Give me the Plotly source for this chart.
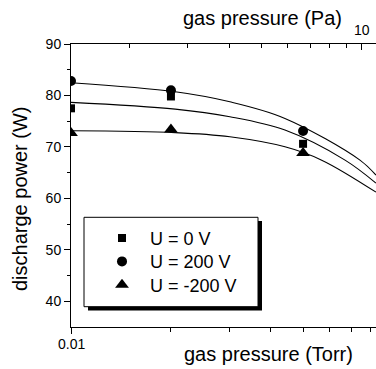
import math
import plotly.graph_objects as go

# ---- data ----
pressure_torr = [0.01, 0.02, 0.05]
power_0V = [77.5, 79.8, 70.6]
power_200V = [82.8, 81.0, 73.1]
power_m200V = [72.7, 73.4, 68.8]

fit_x_0V = [0.01, 0.0206, 0.0301, 0.0441, 0.0669, 0.0829]
fit_0V = [78.66, 77.35, 75.86, 73.27, 67.43, 62.96]
fit_x_200V = [0.01, 0.0206, 0.0301, 0.0441, 0.0742, 0.0829]
fit_200V = [82.47, 80.72, 78.77, 75.54, 67.43, 64.51]
fit_x_m200V = [0.01, 0.0206, 0.0301, 0.0441, 0.0569, 0.0829]
fit_m200V = [73.13, 72.78, 71.97, 70.02, 67.43, 61.21]

labels = ["U = 0 V", "U = 200 V", "U = -200 V"]
torr_ticks = [0.01]
torr_ticktext = ["0.01"]
torr_minor = [0.02, 0.03, 0.04, 0.05, 0.06, 0.07, 0.08]
pa_ticks = [10]
pa_ticktext = ["10"]
pa_minor = [2, 3, 4, 5, 6, 7, 8, 9]
y_ticks = [40, 50, 60, 70, 80, 90]
y_minor = [45, 55, 65, 75, 85]

TORR_TO_PA = 133.322
PA_SHIFT = math.log10(TORR_TO_PA)

W, H = 376, 369
L, R, T, B = 71, 0, 44, 42
PW, PH = W - L - R, H - T - B


def px(x):
    return (x - L) / PW


def py(y):
    return (H - B - y) / PH


FONT = "Liberation Sans, Arial, sans-serif"
x_lo, x_hi = -2.0, -2.0 + (376 - 71) / 332.0

fig = go.Figure()

line_style = dict(color="black", width=1.1, shape="spline")
fig.add_trace(go.Scatter(x=fit_x_0V, y=fit_0V, mode="lines", line=line_style, showlegend=False, hoverinfo="skip"))
fig.add_trace(go.Scatter(x=fit_x_200V, y=fit_200V, mode="lines", line=line_style, showlegend=False, hoverinfo="skip"))
fig.add_trace(go.Scatter(x=fit_x_m200V, y=fit_m200V, mode="lines", line=line_style, showlegend=False, hoverinfo="skip"))

fig.add_trace(go.Scatter(x=pressure_torr, y=power_0V, mode="markers", name=labels[0], legend="legend",
                         marker=dict(symbol="square", size=8, color="black")))
fig.add_trace(go.Scatter(x=pressure_torr, y=power_200V, mode="markers", name=labels[1], legend="legend2",
                         marker=dict(symbol="circle", size=10, color="black")))
fig.add_trace(go.Scatter(x=pressure_torr, y=power_m200V, mode="markers", name=labels[2], legend="legend3",
                         marker=dict(symbol="triangle-up", size=12, color="black")))

# dummy trace for top axis
fig.add_trace(go.Scatter(x=[10 ** (x_lo + PA_SHIFT)], y=[None], xaxis="x2",
                         showlegend=False, hoverinfo="skip"))

tick_common = dict(tickwidth=1, tickcolor="black")


def leg(ycenter):
    return dict(x=px(94), y=py(ycenter), xanchor="left", yanchor="middle",
                bgcolor="rgba(0,0,0,0)", borderwidth=0, itemwidth=46,
                font=dict(size=18, family=FONT, color="black"))


annotations = [
    dict(text="discharge power (W)", xref="paper", yref="paper", x=px(20), y=py(199),
         showarrow=False, textangle=-90, font=dict(size=20, family=FONT),
         xanchor="center", yanchor="middle"),
    dict(text="gas pressure (Torr)", xref="paper", yref="paper", x=px(268), y=py(354),
         showarrow=False, font=dict(size=20, family=FONT), xanchor="center", yanchor="middle"),
    dict(text="gas pressure (Pa)", xref="paper", yref="paper", x=px(262), y=py(18),
         showarrow=False, font=dict(size=20, family=FONT), xanchor="center", yanchor="middle"),
]
for v, t in zip(torr_ticks, torr_ticktext):
    annotations.append(dict(text=t, xref="x", yref="paper", x=math.log10(v), y=py(344),
                            showarrow=False, font=dict(size=14, family=FONT),
                            xanchor="center", yanchor="middle"))
for v, t in zip(pa_ticks, pa_ticktext):
    annotations.append(dict(text=t, xref="x2", yref="paper", x=math.log10(v), y=py(30),
                            showarrow=False, font=dict(size=14, family=FONT),
                            xanchor="center", yanchor="middle"))

fig.update_layout(
    width=W, height=H,
    margin=dict(l=L, r=R, t=T, b=B, pad=0),
    paper_bgcolor="white", plot_bgcolor="white",
    font=dict(family=FONT, color="black", size=14),
    xaxis=dict(type="log", range=[x_lo, x_hi], showgrid=False, zeroline=False,
               showline=True, linecolor="black", linewidth=1, mirror=False,
               tickmode="array", tickvals=torr_ticks, showticklabels=False,
               ticks="outside", ticklen=6, **tick_common,
               minor=dict(tickmode="array", tickvals=torr_minor, ticks="outside",
                          ticklen=4, showgrid=False, **tick_common)),
    xaxis2=dict(type="log", overlaying="x", side="top",
                range=[x_lo + PA_SHIFT, x_hi + PA_SHIFT],
                showgrid=False, zeroline=False, showline=True, linecolor="black", linewidth=1,
                tickmode="array", tickvals=pa_ticks, showticklabels=False,
                ticks="inside", ticklen=6, **tick_common,
                minor=dict(tickmode="array", tickvals=pa_minor, ticks="inside",
                           ticklen=4, showgrid=False, **tick_common)),
    yaxis=dict(range=[35, 90], showgrid=False, zeroline=False,
               showline=True, linecolor="black", linewidth=1,
               tickmode="array", tickvals=y_ticks,
               ticks="outside", ticklen=6, **tick_common,
               tickfont=dict(size=14),
               minor=dict(tickmode="array", tickvals=y_minor, ticks="outside",
                          ticklen=3, showgrid=False, **tick_common)),
    showlegend=True,
    legend=leg(238.3),
    legend2=leg(261.7),
    legend3=leg(285.0),
    shapes=[
        dict(type="rect", xref="paper", yref="paper", x0=px(88), x1=px(262), y0=py(310.5), y1=py(221),
             fillcolor="black", line=dict(width=0), layer="above"),
        dict(type="rect", xref="paper", yref="paper", x0=px(84), x1=px(258), y0=py(306.7), y1=py(217.3),
             fillcolor="white", line=dict(color="black", width=1), layer="above"),
    ],
    annotations=annotations,
)

fig.write_html("out.html")
